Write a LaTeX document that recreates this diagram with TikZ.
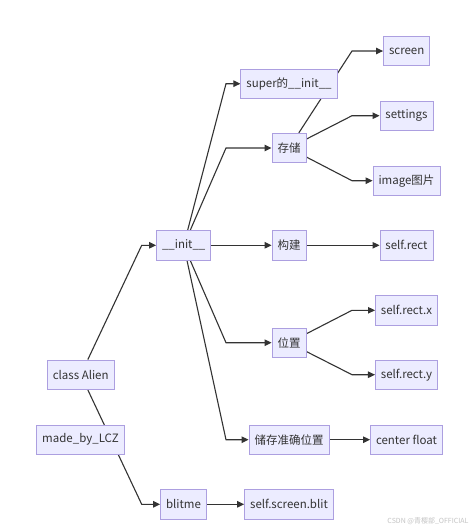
\documentclass[tikz,border=0pt]{standalone}
\usepackage{fontspec}
\setmainfont{Noto Sans CJK SC}
\usetikzlibrary{arrows.meta,backgrounds}
\definecolor{boxfill}{HTML}{ECECFF}
\definecolor{boxline}{HTML}{AC9FE0}
\definecolor{linkgray}{HTML}{333333}
\definecolor{markgray}{HTML}{C4C4C4}
\tikzset{
  box/.style={draw=boxline,fill=boxfill,line width=0.9pt,minimum height=29.3pt,inner xsep=5.5pt,font=\fontsize{11.5}{13}\selectfont,text=linkgray},
  link/.style={-{Triangle[length=7pt,width=6.5pt]},draw=linkgray,line width=1.1pt},
  watermark/.style={font=\fontsize{7}{8}\selectfont,text=markgray}
}
\begin{document}
\begin{tikzpicture}[x=1pt,y=-1pt]
\path[use as bounding box] (0,0) rectangle (474,531);
% nodes, column by column
\node[box] (alien) at (80.7,374.7) {class Alien};
\node[box] (made) at (80.5,439.7) {made\_by\_LCZ};
\node[box] (init) at (183.7,245.3) {\_\_init\_\_};
\node[box] (blit) at (183.5,504.3) {blitme};
\node[box] (super) at (289,83.7) {super的\_\_init\_\_};
\node[box] (store) at (289,148) {存储};
\node[box] (build) at (289,245.3) {构建};
\node[box] (pos) at (289,342.7) {位置};
\node[box] (exact) at (289,439.7) {储存准确位置};
\node[box] (sblit) at (289,504.3) {self.screen.blit};
\node[box] (screen) at (406.7,51) {screen};
\node[box] (settings) at (406.5,115.7) {settings};
\node[box] (image) at (406.5,180.7) {image图片};
\node[box] (rect) at (406.5,245.3) {self.rect};
\node[box] (rectx) at (406.5,310.3) {self.rect.x};
\node[box] (recty) at (406.5,374.7) {self.rect.y};
\node[box] (cfloat) at (406.5,439.7) {center float};
% bend columns
\coordinate (b1) at (141.7,0); \coordinate (b2) at (226,0); \coordinate (b3) at (352,0);
\begin{scope}[on background layer]
\fill[white] (0,0) rectangle (474,531);
\draw[link] (alien) -- (b1 |- init) -- (init);
\draw[link] (alien) -- (b1 |- blit) -- (blit);
\foreach \t in {super,store,pos,exact} \draw[link] (init) -- (b2 |- \t) -- (\t);
\foreach \t in {screen,settings,image} \draw[link] (store) -- (b3 |- \t) -- (\t);
\foreach \t in {rectx,recty} \draw[link] (pos) -- (b3 |- \t) -- (\t);
\draw[link] (init) -- (build); \draw[link] (build) -- (rect);
\draw[link] (exact) -- (cfloat); \draw[link] (blit) -- (sblit);
\end{scope}
\node[watermark,anchor=east] (credit) at (472,521) {CSDN @青樱部\_OFFICIAL};
\end{tikzpicture}
\end{document}
